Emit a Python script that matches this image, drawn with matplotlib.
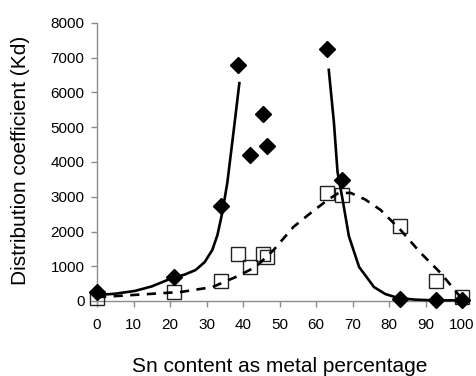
import matplotlib
matplotlib.use("Agg")
import matplotlib.pyplot as plt

plt.rcParams['font.family'] = ['Liberation Sans', 'DejaVu Sans']

# measured points (filled diamonds / open squares)
sn_pts = [0, 21, 34, 38.5, 42, 45.5, 46.5, 63, 67, 83, 93, 100]
kd_filled = [260, 690, 2730, 6790, 4200, 5380, 4460, 7250, 3480, 60, 30, 30]
kd_open = [90, 260, 580, 1350, 980, 1350, 1270, 3110, 3050, 2160, 580, 115]

# fitted curves
fit_left_x = [0, 5, 10.4, 15, 20.6, 24, 27, 29.5, 31.6, 33, 34.3, 35.7, 37.4, 39]
fit_left_y = [170, 210, 290, 420, 660, 760, 890, 1120, 1470, 1900, 2530, 3400, 4860, 6270]
fit_right_x = [63.5, 64.9, 65.9, 67.3, 69, 71.8, 75.9, 79, 82.4, 87, 92, 100]
fit_right_y = [6650, 5150, 3710, 2910, 1870, 980, 400, 200, 90, 40, 20, 20]
fit_dash_x = [0, 5, 14, 23, 31.6, 38, 43.5, 48.4, 53.8, 58.5, 63.2, 66.2, 69.5,
              73.5, 77.7, 83.2, 88.7, 94.2, 100]
fit_dash_y = [110, 140, 200, 260, 400, 690, 980, 1470, 2130, 2530, 2910, 3110, 3110,
              2920, 2620, 2040, 1380, 800, 60]

fig = plt.figure(figsize=(4.76, 3.76), dpi=100)
ax = fig.add_axes([97 / 476, 1 - 301 / 376, 365 / 476, 278 / 376])

ax.plot(sn_pts, kd_open, linestyle="none", marker="s", markersize=10.5,
        markerfacecolor="none", markeredgecolor="#222222", markeredgewidth=1.0,
        clip_on=False, zorder=3)
ax.plot(sn_pts, kd_filled, linestyle="none", marker="D", markersize=8.5,
        color="black", clip_on=False, zorder=4)

ax.plot(fit_left_x, fit_left_y, color="black", linewidth=1.9, zorder=5)
ax.plot(fit_right_x, fit_right_y, color="black", linewidth=1.9, zorder=5,
        clip_on=False)
ax.plot(fit_dash_x, fit_dash_y, color="black", linewidth=1.9, zorder=5,
        linestyle=(0, (3.5, 2.8)), clip_on=False)

ax.set_xlim(0, 100)
ax.set_ylim(0, 8000)
ax.set_xticks(range(0, 101, 10))
ax.set_yticks(range(0, 8001, 1000))

for side in ("top", "right"):
    ax.spines[side].set_visible(False)
for side in ("left", "bottom"):
    ax.spines[side].set_color("#8c8c8c")
    ax.spines[side].set_linewidth(1.0)
ax.tick_params(direction="out", length=4, width=1.0, color="#8c8c8c",
               labelsize=11, pad=5)
ax.tick_params(axis="x", pad=8)

fig.text(280 / 476, 1 - 366 / 376, "Sn content as metal percentage",
         ha="center", va="center", fontsize=15)
fig.text(21 / 476, 1 - 160 / 376, "Distribution coefficient (Kd)",
         ha="center", va="center", rotation=90, fontsize=15)

fig.savefig("out.png", dpi=100)
